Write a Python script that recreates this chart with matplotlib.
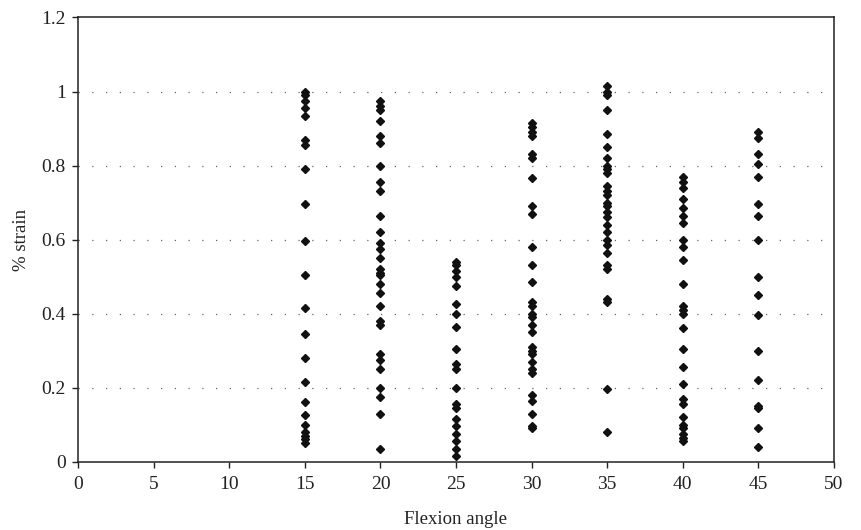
import matplotlib.pyplot as plt

angles = [15, 20, 25, 30, 35, 40, 45]

strain_15 = [1.0, 0.99, 0.975, 0.955, 0.935, 0.87, 0.855, 0.79, 0.695, 0.595,
             0.505, 0.415, 0.345, 0.28, 0.215, 0.16, 0.125, 0.10, 0.08, 0.07,
             0.06, 0.05]
strain_20 = [0.975, 0.96, 0.95, 0.92, 0.88, 0.86, 0.80, 0.755, 0.73, 0.665,
             0.62, 0.59, 0.575, 0.55, 0.52, 0.51, 0.505, 0.48, 0.455, 0.42,
             0.38, 0.37, 0.29, 0.275, 0.25, 0.20, 0.175, 0.13, 0.035]
strain_25 = [0.54, 0.53, 0.515, 0.50, 0.475, 0.425, 0.40, 0.365, 0.305, 0.265,
             0.25, 0.20, 0.155, 0.145, 0.115, 0.095, 0.075, 0.055, 0.035, 0.015]
strain_30 = [0.915, 0.905, 0.89, 0.88, 0.83, 0.82, 0.765, 0.69, 0.67, 0.58,
             0.53, 0.485, 0.43, 0.42, 0.40, 0.39, 0.37, 0.35, 0.31, 0.30,
             0.29, 0.27, 0.25, 0.24, 0.18, 0.165, 0.13, 0.095, 0.09]
strain_35 = [1.015, 1.0, 0.99, 0.95, 0.885, 0.85, 0.82, 0.80, 0.79, 0.78,
             0.745, 0.73, 0.72, 0.70, 0.69, 0.675, 0.66, 0.64, 0.62, 0.60,
             0.585, 0.565, 0.53, 0.52, 0.44, 0.43, 0.195, 0.08]
strain_40 = [0.77, 0.755, 0.74, 0.71, 0.685, 0.665, 0.645, 0.60, 0.58, 0.545,
             0.48, 0.42, 0.41, 0.40, 0.36, 0.305, 0.255, 0.21, 0.17, 0.155,
             0.12, 0.10, 0.09, 0.075, 0.065, 0.055]
strain_45 = [0.89, 0.875, 0.83, 0.805, 0.77, 0.695, 0.665, 0.60, 0.50, 0.45,
             0.395, 0.30, 0.22, 0.15, 0.145, 0.09, 0.04]

series = [strain_15, strain_20, strain_25, strain_30, strain_35, strain_40, strain_45]

plt.rcParams['font.family'] = ['Liberation Serif', 'DejaVu Serif']

fig = plt.figure(figsize=(8.62, 5.30), dpi=100)
ax = fig.add_axes([0.091, 0.129, 0.876, 0.838])

# sparse dotted horizontal grid
for yv in [0.2, 0.4, 0.6, 0.8, 1.0]:
    ax.axhline(yv, color='#666666', linestyle=(0, (1, 10)), linewidth=0.9, zorder=1)

for a, vals in zip(angles, series):
    ax.plot([a] * len(vals), vals, linestyle='none', marker='D', markersize=4.5,
            color='#111111', zorder=3)

ax.set_xlim(0, 50)
ax.set_ylim(0, 1.2)
ax.set_xticks(range(0, 51, 5))
ax.set_yticks([0, 0.2, 0.4, 0.6, 0.8, 1.0, 1.2])
ax.set_yticklabels(['0', '0.2', '0.4', '0.6', '0.8', '1', '1.2'])
ax.tick_params(direction='out', length=4, width=1, labelsize=14, colors='#222222')
ax.tick_params(axis='x', pad=6)
ax.tick_params(axis='y', pad=5)
for s in ax.spines.values():
    s.set_linewidth(1.1)
    s.set_color('#222222')

ax.set_xlabel('Flexion angle', fontsize=13.5, color='#222222', labelpad=13)
ax.set_ylabel('% strain', fontsize=13.5, color='#222222', labelpad=8)

fig.savefig('out.png', dpi=100)
